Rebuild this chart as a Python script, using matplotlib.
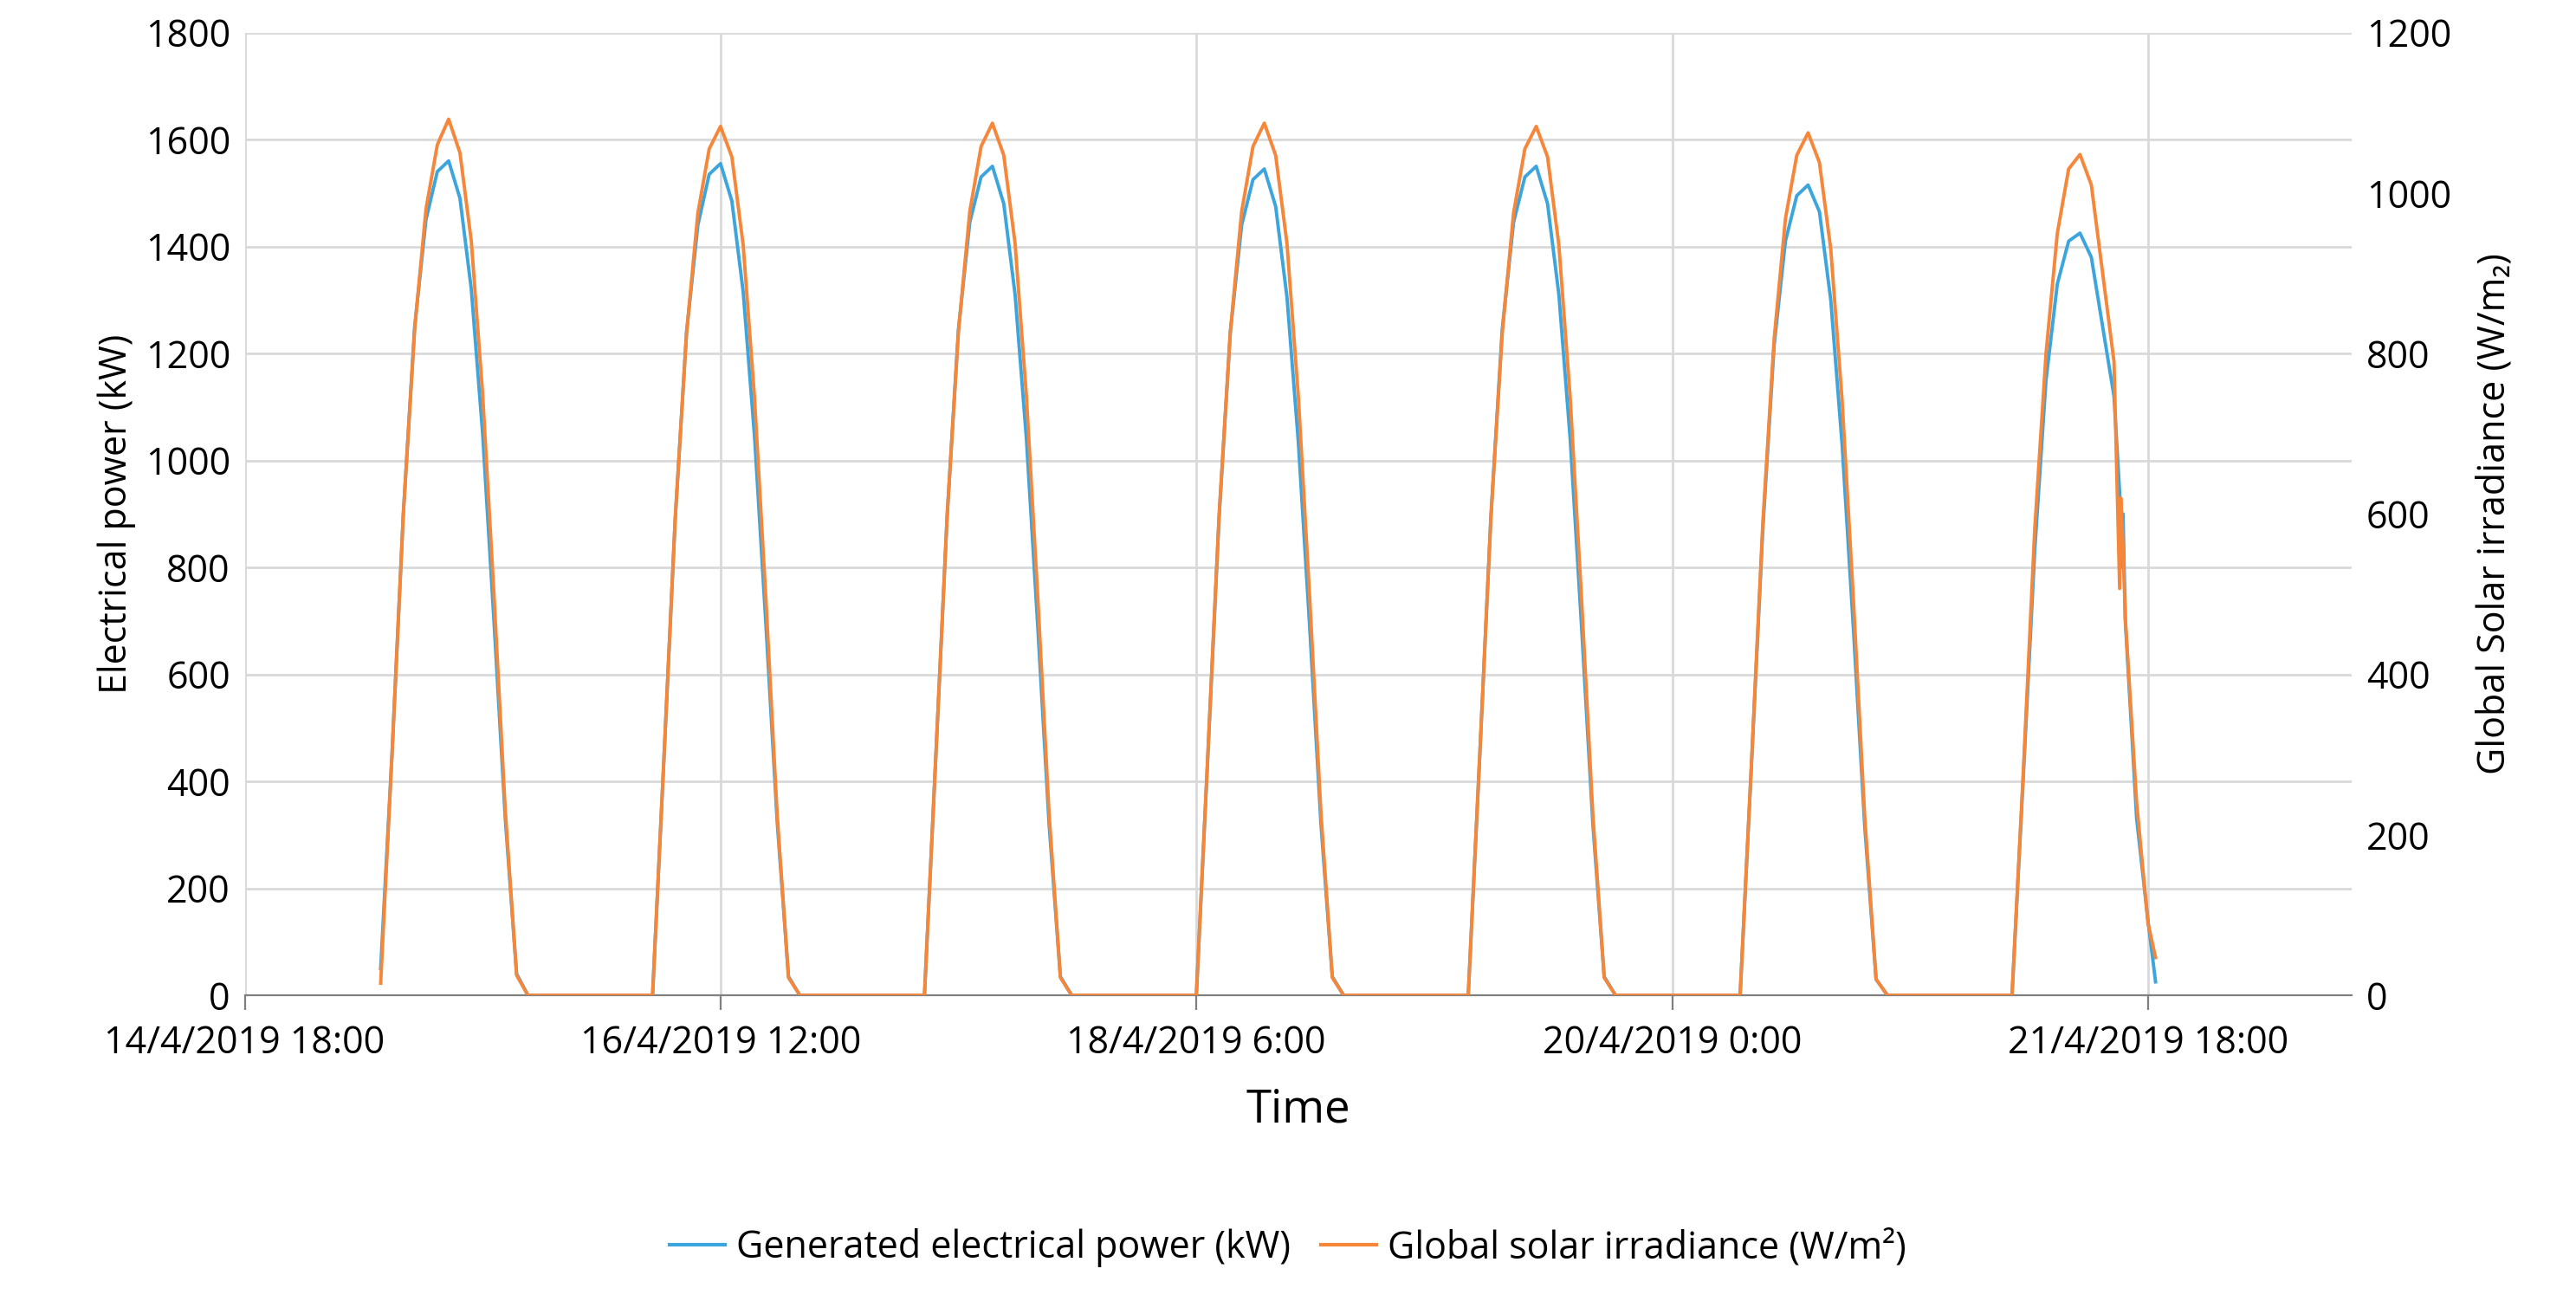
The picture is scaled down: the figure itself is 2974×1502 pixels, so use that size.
from datetime import datetime, timedelta

import matplotlib
matplotlib.use("Agg")
import matplotlib.dates as mdates
import matplotlib.pyplot as plt

plt.rcParams["font.family"] = ["Open Sans", "DejaVu Sans"]

COLOR_POWER = "#3DA5DD"
COLOR_IRR = "#F5863A"
COLOR_GRID = "#D9D9D9"

# --- data (hourly readings, 15/4 - 21/4/2019) ---
DAYS = [15, 16, 17, 18, 19, 20]
HOURS = [6, 7, 8, 9, 10, 11, 12, 13, 14, 15, 16, 17, 18, 19]
POWER = [
    [50, 450, 900, 1250, 1450, 1540, 1560, 1490, 1320, 1050, 700, 330, 40, 0],
    [0, 440, 890, 1240, 1440, 1535, 1555, 1485, 1315, 1045, 695, 325, 35, 0],
    [0, 445, 895, 1245, 1445, 1530, 1550, 1480, 1310, 1040, 690, 320, 35, 0],
    [0, 440, 890, 1240, 1440, 1525, 1545, 1475, 1305, 1035, 690, 320, 35, 0],
    [0, 440, 895, 1245, 1445, 1530, 1550, 1480, 1310, 1040, 690, 320, 35, 0],
    [0, 430, 870, 1215, 1410, 1495, 1515, 1465, 1300, 1030, 685, 315, 30, 0],
]
IRRADIANCE = [
    [15, 300, 600, 830, 980, 1060, 1092, 1050, 940, 750, 500, 230, 25, 0],
    [0, 295, 595, 825, 975, 1055, 1083, 1045, 935, 745, 495, 225, 22, 0],
    [0, 297, 597, 827, 977, 1058, 1087, 1047, 937, 747, 497, 227, 22, 0],
    [0, 297, 597, 827, 977, 1058, 1087, 1047, 937, 747, 497, 227, 22, 0],
    [0, 295, 595, 825, 975, 1055, 1083, 1045, 935, 745, 495, 225, 22, 0],
    [0, 290, 588, 818, 968, 1047, 1075, 1038, 930, 742, 493, 222, 20, 0],
]
# last day (21/4) has a cloud passage in the afternoon, data ends 18:40
LAST_HOURS = [6, 7, 8, 9, 10, 11, 12, 13, 14, 15, 15.5, 15.6, 15.8, 16, 17, 18, 18.67]
LAST_POWER = [0, 410, 830, 1150, 1330, 1410, 1425, 1380, 1250, 1120, 940, 800, 900, 700, 330, 140, 25]
LAST_IRR = [0, 280, 580, 800, 950, 1030, 1048, 1010, 900, 790, 507, 620, 560, 470, 240, 90, 47]

TICK_TIMES = [datetime(2019, 4, 14, 18), datetime(2019, 4, 16, 12), datetime(2019, 4, 18, 6),
              datetime(2019, 4, 20, 0), datetime(2019, 4, 21, 18)]
TICK_LABELS = ["14/4/2019 18:00", "16/4/2019 12:00", "18/4/2019 6:00",
               "20/4/2019 0:00", "21/4/2019 18:00"]


def build_series():
    times, power, irr = [], [], []
    for day, p_vals, i_vals in zip(DAYS, POWER, IRRADIANCE):
        for h, p, i in zip(HOURS, p_vals, i_vals):
            times.append(datetime(2019, 4, day) + timedelta(hours=h))
            power.append(p)
            irr.append(i)
    for h, p, i in zip(LAST_HOURS, LAST_POWER, LAST_IRR):
        times.append(datetime(2019, 4, 21) + timedelta(hours=h))
        power.append(p)
        irr.append(i)
    return mdates.date2num(times), power, irr


def main():
    t, power, irr = build_series()

    fig = plt.figure(figsize=(14.87, 7.51), dpi=200)
    ax = fig.add_axes([0.095, 0.235, 0.818, 0.74])
    ax2 = ax.twinx()

    # irradiance (secondary axis) is drawn on top of the power curve
    ax.plot(t, power, color=COLOR_POWER, lw=1.4, zorder=3)
    ax2.plot(t, irr, color=COLOR_IRR, lw=1.4, zorder=3)

    x0 = mdates.date2num(datetime(2019, 4, 14, 18))
    x1 = mdates.date2num(datetime(2019, 4, 22, 12))
    ax.set_xlim(x0, x1)
    ax.set_ylim(0, 1800)
    ax2.set_ylim(0, 1200)
    ax.set_yticks(range(0, 1801, 200))
    ax2.set_yticks(range(0, 1201, 200))
    ax.set_xticks(mdates.date2num(TICK_TIMES))
    ax.set_xticklabels(TICK_LABELS)

    ax.grid(True, color=COLOR_GRID, lw=1)
    for a in (ax, ax2):
        for s in a.spines.values():
            s.set_visible(False)
        a.tick_params(labelsize=15.5, length=0, pad=6)
    ax.spines["bottom"].set_visible(True)
    ax.spines["bottom"].set_color("#808080")
    ax.tick_params(axis="x", length=6, color="#808080", direction="out", pad=6)

    ax.set_ylabel("Electrical power (kW)", fontsize=15.5)
    ax2.set_ylabel("Global Solar irradiance (W/m\u2082)", fontsize=15.5, labelpad=10)
    ax.set_xlabel("Time", fontsize=19, labelpad=10)

    fig.legend(
        [plt.Line2D([], [], color=COLOR_POWER, lw=1.5), plt.Line2D([], [], color=COLOR_IRR, lw=1.5)],
        ["Generated electrical power (kW)", "Global solar irradiance (W/m\u00b2)"],
        loc="lower center", bbox_to_anchor=(0.5, 0.0), ncol=2, frameon=False,
        fontsize=15.5, handlelength=1.5, handletextpad=0.3, columnspacing=0.8,
    )

    fig.savefig("out.png", dpi=200, facecolor="white")
    plt.close(fig)


if __name__ == "__main__":
    main()
